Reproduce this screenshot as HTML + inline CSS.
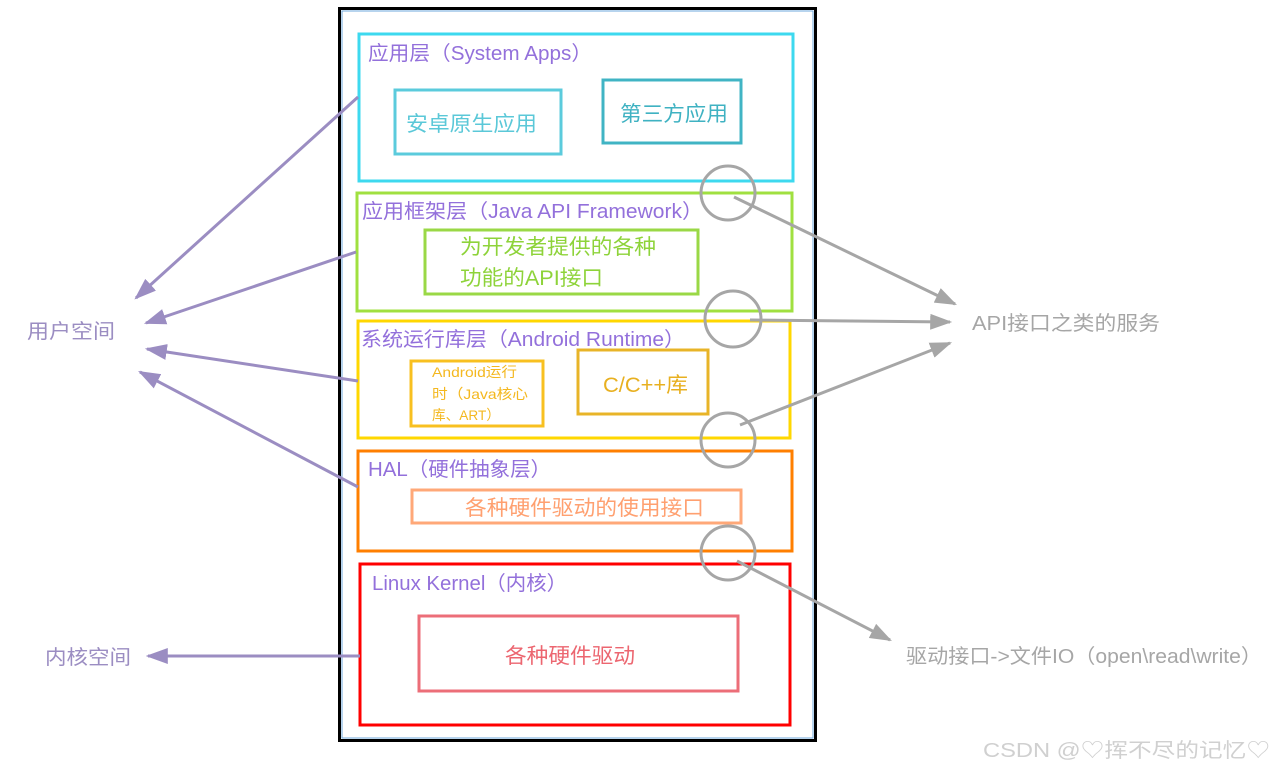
<!DOCTYPE html>
<html><head><meta charset="utf-8"><style>
html,body{margin:0;padding:0;background:#fff;}
svg{display:block;font-family:"Liberation Sans","Noto Sans CJK SC",sans-serif;}
</style></head><body>
<svg width="1276" height="772" viewBox="0 0 1276 772" xmlns="http://www.w3.org/2000/svg">
<defs>
<marker id="pa" viewBox="0 0 10 10" refX="9" refY="5" markerWidth="22" markerHeight="16" orient="auto" markerUnits="userSpaceOnUse" preserveAspectRatio="none"><path d="M0,0 L10,5 L0,10 z" fill="#9b8dc2"/></marker>
<marker id="ga" viewBox="0 0 10 10" refX="9" refY="5" markerWidth="22" markerHeight="16" orient="auto" markerUnits="userSpaceOnUse" preserveAspectRatio="none"><path d="M0,0 L10,5 L0,10 z" fill="#a6a6a6"/></marker>
</defs>
<style>
.pa{stroke:#9b8dc2;stroke-width:3;fill:none;}
.ga{stroke:#a6a6a6;stroke-width:3;fill:none;}
text{}
</style>
<rect x="339.5" y="8.5" width="476" height="732" fill="none" stroke="#000" stroke-width="3"/>
<rect x="342" y="11" width="471" height="727" fill="none" stroke="#6fa8dc" stroke-width="1"/>

<rect x="359" y="34" width="434" height="147" fill="none" stroke="#3dd9ef" stroke-width="3"/>
<text x="368" y="60" font-size="20" fill="#9370db" textLength="224" lengthAdjust="spacingAndGlyphs">应用层（System Apps）</text>
<rect x="395" y="90" width="166" height="64" fill="none" stroke="#5bcbdc" stroke-width="3"/>
<text x="406" y="131" font-size="21" fill="#5bc8d8" textLength="131" lengthAdjust="spacingAndGlyphs">安卓原生应用</text>
<rect x="603" y="80" width="138" height="63" fill="none" stroke="#40b4c4" stroke-width="3"/>
<text x="620" y="121" font-size="21" fill="#3fb2c2" textLength="108" lengthAdjust="spacingAndGlyphs">第三方应用</text>

<rect x="357" y="193" width="435" height="118" fill="none" stroke="#a0e040" stroke-width="3"/>
<text x="362" y="218" font-size="20" fill="#9370db" textLength="341" lengthAdjust="spacingAndGlyphs">应用框架层（Java API Framework）</text>
<rect x="425" y="230" width="273" height="64" fill="none" stroke="#9ad846" stroke-width="3"/>
<text x="460" y="254" font-size="21" fill="#8ed33a" textLength="196" lengthAdjust="spacingAndGlyphs">为开发者提供的各种</text>
<text x="460" y="285" font-size="21" fill="#8ed33a" textLength="143" lengthAdjust="spacingAndGlyphs">功能的API接口</text>

<rect x="358" y="321" width="432" height="117" fill="none" stroke="#ffd700" stroke-width="3"/>
<text x="361" y="346" font-size="20" fill="#9370db" textLength="324" lengthAdjust="spacingAndGlyphs">系统运行库层（Android Runtime）</text>
<rect x="411" y="361" width="132" height="65" fill="none" stroke="#f8c020" stroke-width="3"/>
<text x="432" y="377" font-size="14" fill="#f4b820" textLength="85" lengthAdjust="spacingAndGlyphs">Android运行</text>
<text x="432" y="399" font-size="14" fill="#f4b820" textLength="96" lengthAdjust="spacingAndGlyphs">时（Java核心</text>
<text x="432" y="420" font-size="14" fill="#f4b820" textLength="68" lengthAdjust="spacingAndGlyphs">库、ART）</text>
<rect x="578" y="350" width="130" height="64" fill="none" stroke="#e8b428" stroke-width="3"/>
<text x="603" y="392" font-size="21" fill="#e8b020" textLength="85" lengthAdjust="spacingAndGlyphs">C/C++库</text>

<rect x="358" y="451" width="434" height="100" fill="none" stroke="#ff7f00" stroke-width="3"/>
<text x="368" y="476" font-size="20" fill="#9370db" textLength="183" lengthAdjust="spacingAndGlyphs">HAL（硬件抽象层）</text>
<rect x="412" y="490" width="329" height="33" fill="none" stroke="#ffa878" stroke-width="3"/>
<text x="465" y="515" font-size="21" fill="#ffa070" textLength="239" lengthAdjust="spacingAndGlyphs">各种硬件驱动的使用接口</text>

<rect x="360" y="564" width="430" height="161" fill="none" stroke="#ff0000" stroke-width="3"/>
<text x="372" y="590" font-size="20" fill="#9370db" textLength="195" lengthAdjust="spacingAndGlyphs">Linux Kernel（内核）</text>
<rect x="419" y="616" width="319" height="75" fill="none" stroke="#ec6e78" stroke-width="3"/>
<text x="505" y="663" font-size="21" fill="#ec6670" textLength="130" lengthAdjust="spacingAndGlyphs">各种硬件驱动</text>

<line class="pa" x1="358" y1="97" x2="136" y2="298" marker-end="url(#pa)"/>
<line class="pa" x1="356" y1="252" x2="146" y2="323" marker-end="url(#pa)"/>
<line class="pa" x1="358" y1="381" x2="147" y2="349" marker-end="url(#pa)"/>
<line class="pa" x1="358" y1="487" x2="140" y2="372" marker-end="url(#pa)"/>
<line class="pa" x1="360" y1="656" x2="148" y2="656" marker-end="url(#pa)"/>
<text x="27" y="338" font-size="20" fill="#9b8dc2" textLength="88" lengthAdjust="spacingAndGlyphs">用户空间</text>
<text x="45" y="664" font-size="20" fill="#9b8dc2" textLength="86" lengthAdjust="spacingAndGlyphs">内核空间</text>

<circle cx="728" cy="193" r="27" fill="none" stroke="#a6a6a6" stroke-width="3"/>
<circle cx="733" cy="319" r="28" fill="none" stroke="#a6a6a6" stroke-width="3"/>
<circle cx="728" cy="440" r="27" fill="none" stroke="#a6a6a6" stroke-width="3"/>
<circle cx="728" cy="553" r="27" fill="none" stroke="#a6a6a6" stroke-width="3"/>
<line class="ga" x1="734" y1="197" x2="955" y2="304" marker-end="url(#ga)"/>
<line class="ga" x1="750" y1="320" x2="950" y2="322" marker-end="url(#ga)"/>
<line class="ga" x1="740" y1="425" x2="950" y2="343" marker-end="url(#ga)"/>
<line class="ga" x1="737" y1="561" x2="890" y2="640" marker-end="url(#ga)"/>
<text x="972" y="330" font-size="20" fill="#a6a6a6" textLength="188" lengthAdjust="spacingAndGlyphs">API接口之类的服务</text>
<text x="906" y="663" font-size="20" fill="#a6a6a6" textLength="356" lengthAdjust="spacingAndGlyphs">驱动接口-&gt;文件IO（open\read\write）</text>

<text x="983" y="757" font-size="20" fill="#d0d0d0" textLength="287" lengthAdjust="spacingAndGlyphs">CSDN @♡挥不尽的记忆♡</text>
</svg>
</body></html>
